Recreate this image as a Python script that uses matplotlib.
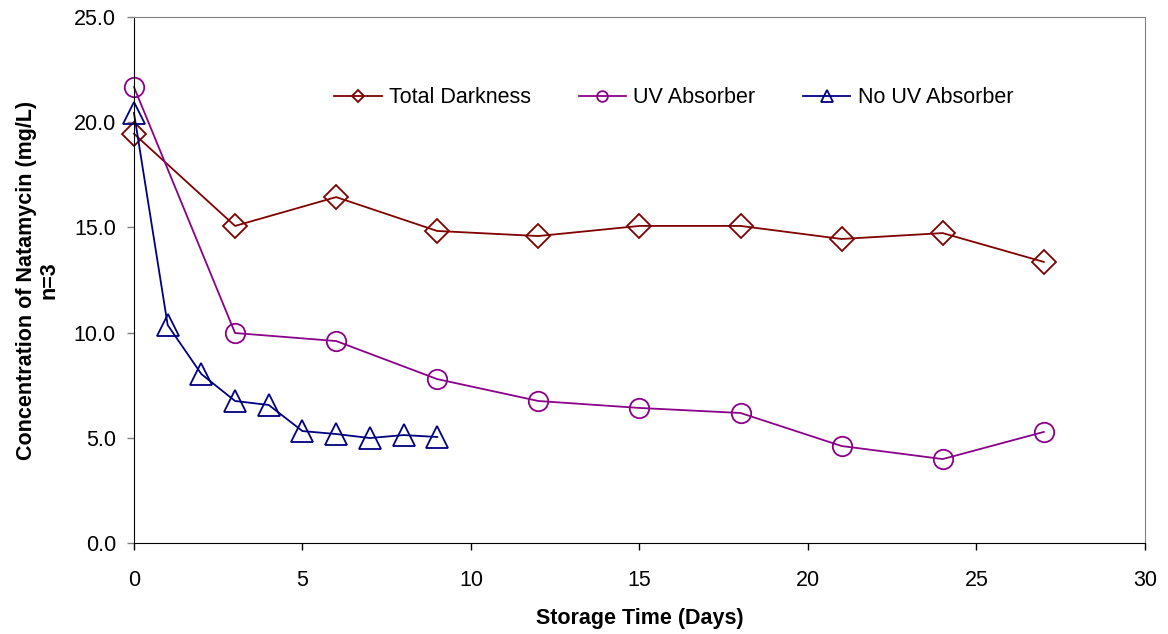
import matplotlib
matplotlib.use("Agg")
from matplotlib import pyplot as plt
from matplotlib.ticker import FormatStrFormatter

# storage time (days) and natamycin concentration (mg/L)
days_dark = [0, 3, 6, 9, 12, 15, 18, 21, 24, 27]
total_darkness = [19.45, 15.07, 16.44, 14.83, 14.59, 15.07, 15.07, 14.45, 14.73, 13.36]

days_uv = [0, 3, 6, 9, 12, 15, 18, 21, 24, 27]
uv_absorber = [21.67, 9.98, 9.60, 7.79, 6.75, 6.42, 6.18, 4.61, 3.99, 5.28]

days_no_uv = [0, 1, 2, 3, 4, 5, 6, 7, 8, 9]
no_uv_absorber = [20.44, 10.36, 8.03, 6.75, 6.56, 5.32, 5.18, 4.99, 5.13, 5.04]

plt.rcParams['font.family'] = ['Liberation Sans', 'DejaVu Sans']

fig = plt.figure(figsize=(11.68, 6.34), dpi=100)
ax = fig.add_axes([0.1147, 0.1435, 0.8655, 0.8297])

ax.plot(days_dark, total_darkness, color="#800000", lw=1.3, marker="D",
        ms=12, mfc="none", mew=1.3, label="Total Darkness")
ax.plot(days_uv, uv_absorber, color="#8a008a", lw=1.3, marker="o",
        ms=14, mfc="none", mew=1.3, label="UV Absorber")
ax.plot(days_no_uv, no_uv_absorber, color="#000080", lw=1.3, marker="^",
        ms=16, mfc="none", mew=1.3, label="No UV Absorber")

ax.set_xlim(0, 30)
ax.set_ylim(0, 25)
ax.set_xticks(range(0, 31, 5))
ax.set_yticks(range(0, 26, 5))
ax.yaxis.set_major_formatter(FormatStrFormatter("%.1f"))
ax.tick_params(labelsize=15.5, direction="out", length=5, width=1)
ax.tick_params(axis="x", pad=14.5)
ax.tick_params(axis="y", color="#808080", pad=8)

for side in ["top", "right"]:
    ax.spines[side].set_color("#808080")
for side in ["left", "bottom"]:
    ax.spines[side].set_color("black")
for ln in ax.lines:
    ln.set_clip_on(False)

ax.set_xlabel("Storage Time (Days)", fontsize=15.5, fontweight="bold", labelpad=12)
ax.set_ylabel("Concentration of Natamycin (mg/L)\nn=3", fontsize=15.5,
              fontweight="bold", labelpad=10, linespacing=1.1)

leg = ax.legend(loc="center", bbox_to_anchor=(0.534, 0.846), ncol=3,
                frameon=False, fontsize=15.5, markerscale=0.55,
                handlelength=2.2, columnspacing=2.2, handletextpad=0.35)

fig.savefig("out.png", dpi=100)
